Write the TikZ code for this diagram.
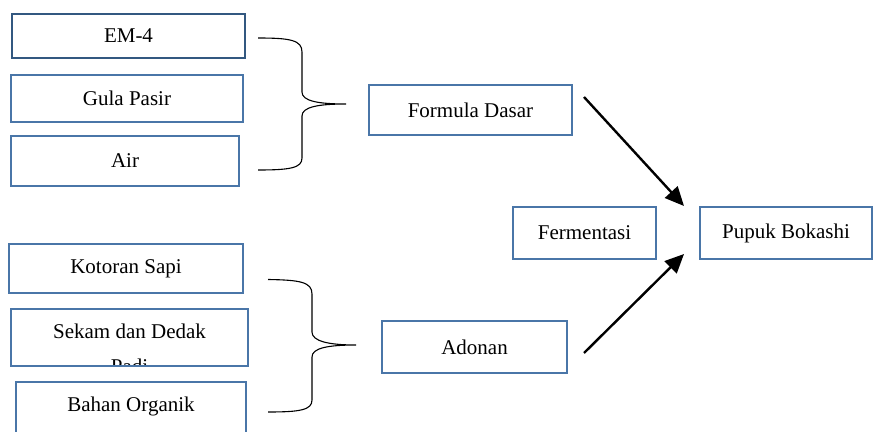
\documentclass[tikz,border=0pt]{standalone}
\usepackage{fontspec}
\setmainfont{Liberation Serif}
\usepackage{tikz}
\usetikzlibrary{positioning, arrows.meta, calc}
\definecolor{boxblue}{HTML}{4A76A8}
\definecolor{darkblue}{HTML}{335880}

\tikzset{
  box/.style={draw=boxblue, line width=2pt, fill=white, inner sep=0pt},
  brace/.style={draw=black, line width=1.1pt},
  flow/.style={draw=black, line width=2.4pt, -{Triangle[length=19pt, width=17pt]}}
}

\begin{document}
\begin{tikzpicture}[x=1pt, y=-1pt, font=\fontsize{21}{25}\selectfont]
  \useasboundingbox (0,0) rectangle (877,431);

  % bahan formula dasar
  \node[box, draw=darkblue, minimum width=233pt, minimum height=44pt] (em4) at (128.5,36) {EM-4};
  \node[box, minimum width=232pt, minimum height=47pt] (gula) at (127,98.5) {Gula Pasir};
  \node[box, minimum width=228pt, minimum height=50pt] (air) at (125,161) {Air};

  % bahan adonan
  \node[box, minimum width=234pt, minimum height=49pt] (kotoran) at (126,268.5) {Kotoran Sapi};
  \begin{scope}
    \clip (11,309) rectangle (248,365);
    \node[align=center, anchor=north] (sekamtxt) at (129.5,320) {Sekam dan Dedak\\[10pt]Padi};
  \end{scope}
  \node[box, fill=none, minimum width=237pt, minimum height=57pt] (sekam) at (129.5,337.5) {};
  \node[box, minimum width=230pt, minimum height=58pt] (bahan) at (131,411) {};
  \node (bahantxt) at (131,406) {Bahan Organik};

  % hasil
  \node[box, minimum width=203pt, minimum height=50pt] (formula) at (470.5,110) {Formula Dasar};
  \node[box, minimum width=185pt, minimum height=52pt] (adonan) at (474.5,347) {Adonan};
  \node[box, minimum width=143pt, minimum height=52pt] (ferm) at (584.5,233) {Fermentasi};
  \node[box, minimum width=172pt, minimum height=52pt] (pupuk) at (786,233) {Pupuk Bokashi};

  % kurung kurawal
  \draw[brace] ($(em4.east)+(12,2)$) .. controls (290,38) and (302,40) .. (302,52)
    -- (302,92) .. controls (302,101) and (318,104) .. ($(formula.west)+(-22,-6)$)
    .. controls (318,104) and (302,107) .. (302,116)
    -- (302,158) .. controls (302,168) and (290,170) .. ($(air.east)+(18,9)$);
  \draw[brace] ($(kotoran.east)+(24,11)$) .. controls (300,280) and (312,282) .. (312,294)
    -- (312,332) .. controls (312,341) and (328,345) .. ($(adonan.west)+(-25,-2)$)
    .. controls (328,345) and (312,348) .. (312,357)
    -- (312,400) .. controls (312,410) and (300,412) .. ($(bahan.east)+(21,1)$);

  % panah
  \coordinate (inA) at ($(pupuk.north west)+(-15,0)$);
  \coordinate (inB) at ($(pupuk.south west)+(-15,-6)$);
  \draw[flow] ($(formula.east)+(11,-13)$) -- (inA);
  \draw[flow] ($(adonan.east)+(16,6)$) -- (inB);
\end{tikzpicture}
\end{document}
